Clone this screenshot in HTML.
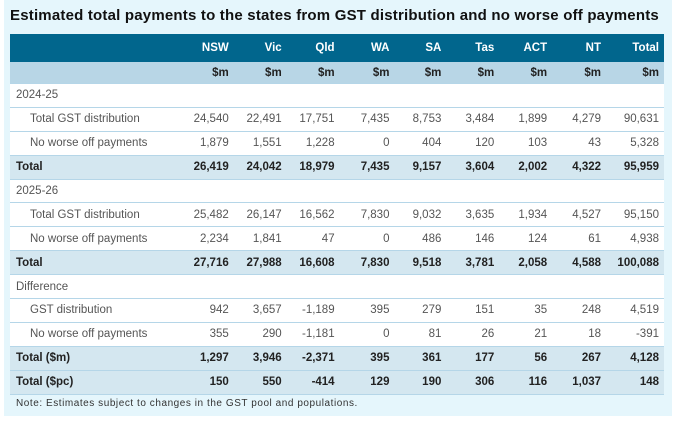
<!DOCTYPE html>
<html><head><meta charset="utf-8"><style>
html,body{margin:0;padding:0;background:#fff;}
#wrap{position:absolute;left:4px;top:0;width:668px;height:416px;background:#e5f6fc;}
h1{position:absolute;left:6px;top:7px;margin:0;font:bold 15px "Liberation Sans",sans-serif;color:#111;letter-spacing:0.2px;white-space:nowrap;}
table{position:absolute;left:6px;top:34px;width:654px;border-collapse:collapse;font:11.5px "Liberation Sans",sans-serif;color:#555;}
td,th{padding:0 5px 0 0;text-align:right;height:22.9px;border-bottom:1px solid #b5d6e8;background:#fff;white-space:nowrap;}
th{font-weight:bold;}
tr.h th{background:#01668d;color:#fff;height:28px;border:none;}
tr.u th{background:#b8d6e6;color:#222;height:21px;}
td.l,th.l{text-align:left;padding-left:6px;}
td.i{text-align:left;padding-left:20px;}
tr.t td{background:#d4e7f0;font-weight:bold;color:#222;}
tr.s td{color:#555;}
#note{position:absolute;left:12px;top:398px;font:10px "Liberation Sans",sans-serif;color:#333;letter-spacing:0.55px;}
</style></head><body>
<div id="wrap">
<h1>Estimated total payments to the states from GST distribution and no worse off payments</h1>
<table>
<colgroup><col style="width:174px"><col style="width:50px"><col style="width:53px"><col style="width:53px"><col style="width:55px"><col style="width:52px"><col style="width:53px"><col style="width:53px"><col style="width:54px"><col style="width:58px"></colgroup>
<tr class="h"><th class="l"></th><th>NSW</th><th>Vic</th><th>Qld</th><th>WA</th><th>SA</th><th>Tas</th><th>ACT</th><th>NT</th><th>Total</th></tr>
<tr class="u"><th class="l"></th><th>$m</th><th>$m</th><th>$m</th><th>$m</th><th>$m</th><th>$m</th><th>$m</th><th>$m</th><th>$m</th></tr>
<tr class="s"><td class="l" colspan="10">2024-25</td></tr>
<tr><td class="i">Total GST distribution</td><td>24,540</td><td>22,491</td><td>17,751</td><td>7,435</td><td>8,753</td><td>3,484</td><td>1,899</td><td>4,279</td><td>90,631</td></tr>
<tr><td class="i">No worse off payments</td><td>1,879</td><td>1,551</td><td>1,228</td><td>0</td><td>404</td><td>120</td><td>103</td><td>43</td><td>5,328</td></tr>
<tr class="t"><td class="l">Total</td><td>26,419</td><td>24,042</td><td>18,979</td><td>7,435</td><td>9,157</td><td>3,604</td><td>2,002</td><td>4,322</td><td>95,959</td></tr>
<tr class="s"><td class="l" colspan="10">2025-26</td></tr>
<tr><td class="i">Total GST distribution</td><td>25,482</td><td>26,147</td><td>16,562</td><td>7,830</td><td>9,032</td><td>3,635</td><td>1,934</td><td>4,527</td><td>95,150</td></tr>
<tr><td class="i">No worse off payments</td><td>2,234</td><td>1,841</td><td>47</td><td>0</td><td>486</td><td>146</td><td>124</td><td>61</td><td>4,938</td></tr>
<tr class="t"><td class="l">Total</td><td>27,716</td><td>27,988</td><td>16,608</td><td>7,830</td><td>9,518</td><td>3,781</td><td>2,058</td><td>4,588</td><td>100,088</td></tr>
<tr class="s"><td class="l" colspan="10">Difference</td></tr>
<tr><td class="i">GST distribution</td><td>942</td><td>3,657</td><td>-1,189</td><td>395</td><td>279</td><td>151</td><td>35</td><td>248</td><td>4,519</td></tr>
<tr><td class="i">No worse off payments</td><td>355</td><td>290</td><td>-1,181</td><td>0</td><td>81</td><td>26</td><td>21</td><td>18</td><td>-391</td></tr>
<tr class="t"><td class="l">Total ($m)</td><td>1,297</td><td>3,946</td><td>-2,371</td><td>395</td><td>361</td><td>177</td><td>56</td><td>267</td><td>4,128</td></tr>
<tr class="t"><td class="l">Total ($pc)</td><td>150</td><td>550</td><td>-414</td><td>129</td><td>190</td><td>306</td><td>116</td><td>1,037</td><td>148</td></tr>
</table>
<div id="note">Note: Estimates subject to changes in the GST pool and populations.</div>
</div>
</body></html>
